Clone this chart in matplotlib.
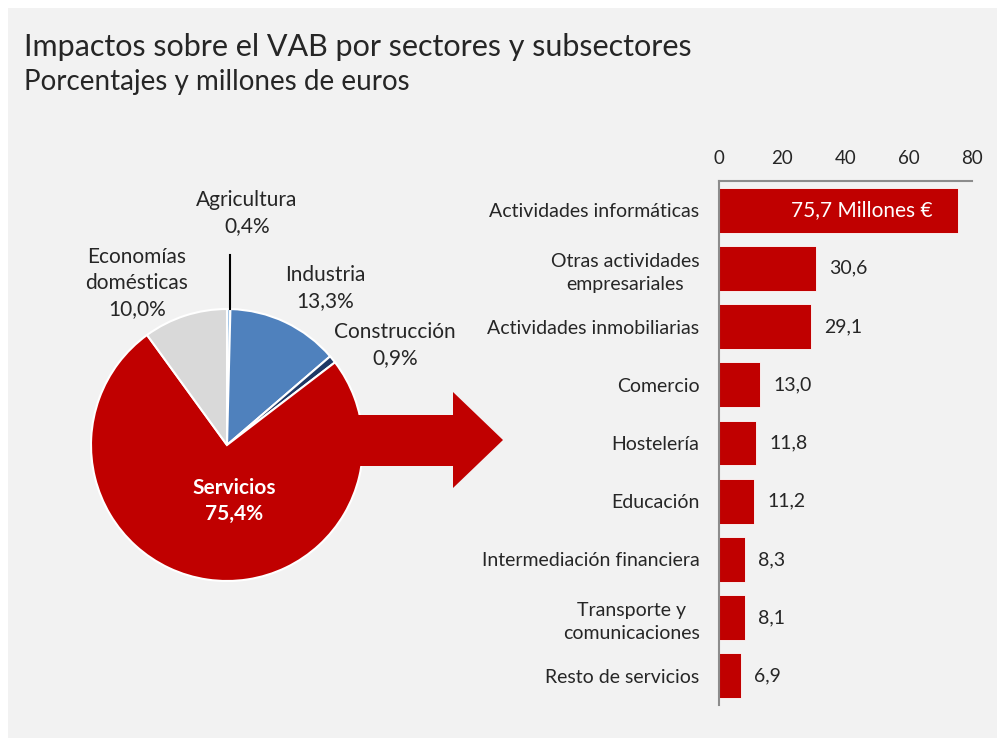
import matplotlib
matplotlib.use('AGG')
import matplotlib.pyplot as plt
from matplotlib.patches import Rectangle, Polygon

plt.rcParams['font.family'] = ['Lato', 'DejaVu Sans']

# pie data (clockwise from 12 o'clock)
sectores = ['Agricultura', 'Industria', 'Construcción', 'Servicios', 'Economías\ndomésticas']
pesos = [0.4, 13.3, 0.9, 75.4, 10.0]
colores_pie = ['#9DC3E6', '#4F81BD', '#1F3864', '#C00000', '#D9D9D9']

# bar data
subsectores = ['Actividades informáticas', 'Otras actividades\nempresariales',
               'Actividades inmobiliarias', 'Comercio', 'Hostelería', 'Educación',
               'Intermediación financiera', 'Transporte y\ncomunicaciones',
               'Resto de servicios']
millones = [75.7, 30.6, 29.1, 13.0, 11.8, 11.2, 8.3, 8.1, 6.9]
xticks = [0, 20, 40, 60, 80]

W, H = 997, 738
TXT = '#262626'
RED = '#C00000'

fig = plt.figure(figsize=(W / 100, H / 100), dpi=100, facecolor='white')
fig.patches.append(Rectangle((8 / W, 0), 1 - 8 / W, 1 - 8 / H, transform=fig.transFigure,
                             facecolor='#F2F2F2', edgecolor='none', zorder=-10))

fig.text(24 / W, 1 - 56 / H, 'Impactos sobre el VAB por sectores y subsectores',
         fontsize=22, color=TXT, va='baseline')
fig.text(24 / W, 1 - 90 / H, 'Porcentajes y millones de euros',
         fontsize=20, color=TXT, va='baseline')

# ---- pie ----
cx, cy, r = 227, 445, 136
x0, x1, y0, y1 = 40, 515, 170, 610
axp = fig.add_axes([x0 / W, 1 - y1 / H, (x1 - x0) / W, (y1 - y0) / H])
axp.set_facecolor('none')

def px(x, y):
    return (x - cx) / r, (cy - y) / r

wedges, _ = axp.pie(pesos, colors=colores_pie, startangle=90, counterclock=False,
                    radius=1, wedgeprops=dict(edgecolor='white', linewidth=1.5))
for w in wedges:
    w.set_zorder(2)
axp.set_aspect('auto')
axp.set_xlim(-(cx - x0) / r, (x1 - cx) / r)
axp.set_ylim(-(y1 - cy) / r, (cy - y0) / r)
axp.axis('off')

# arrow leaving the Servicios slice
arrow = [px(330, 415), px(453, 415), px(453, 392), px(503, 440),
         px(453, 488), px(453, 466), px(330, 466)]
axp.add_patch(Polygon(arrow, closed=True, facecolor=RED, edgecolor='none', zorder=3))

# leader line for Agricultura
axp.plot(*zip(px(230, 255), px(230, 309)), color='black', lw=1.5, zorder=3)

fs = 15
etiquetas = [
    (247, 213, 'Agricultura\n0,4%'),
    (325, 288, 'Industria\n13,3%'),
    (395, 345, 'Construcción\n0,9%'),
    (137, 283, 'Economías\ndomésticas\n10,0%'),
]
for x, y, t in etiquetas:
    axp.text(*px(x, y), t, ha='center', va='center', fontsize=fs, color=TXT,
             linespacing=1.35, zorder=4)
axp.text(*px(234, 501), 'Servicios\n75,4%', ha='center', va='center', fontsize=fs,
         color='white', fontweight='bold', linespacing=1.4, zorder=4)

# ---- bars ----
bl, br, bt, bb = 719, 971.7, 181, 705
axb = fig.add_axes([bl / W, 1 - bb / H, (br - bl) / W, (bb - bt) / H])
axb.set_facecolor('none')
ypos = list(range(len(subsectores)))
axb.barh(ypos, millones, height=0.77, color=RED, edgecolor='white', linewidth=0.6)
axb.set_xlim(0, 80)
axb.set_ylim(len(subsectores) - 0.5, -0.5)
axb.xaxis.tick_top()
axb.set_xticks(xticks)
axb.set_xticklabels([str(v) for v in xticks], fontsize=13.5, color=TXT)
axb.set_yticks(ypos)
axb.set_yticklabels(subsectores, fontsize=14, color=TXT, multialignment='center',
                    linespacing=1.45)
axb.tick_params(axis='both', length=0)
axb.tick_params(axis='y', pad=14)
axb.tick_params(axis='x', pad=10)
for s in ['right', 'bottom']:
    axb.spines[s].set_visible(False)
for s in ['top', 'left']:
    axb.spines[s].set_color('#8C8C8C')
    axb.spines[s].set_linewidth(1.5)

for i, v in enumerate(millones):
    lab = f'{v:.1f}'.replace('.', ',')
    if i == 0:
        axb.annotate(lab + ' Millones €', (v, i), xytext=(-25, 0), textcoords='offset pixels',
                     ha='right', va='center', fontsize=15, color='white')
    else:
        axb.annotate(lab, (v, i), xytext=(13, 0), textcoords='offset pixels',
                     ha='left', va='center', fontsize=14, color=TXT)

fig.savefig('out.png', dpi=100, facecolor='white')
